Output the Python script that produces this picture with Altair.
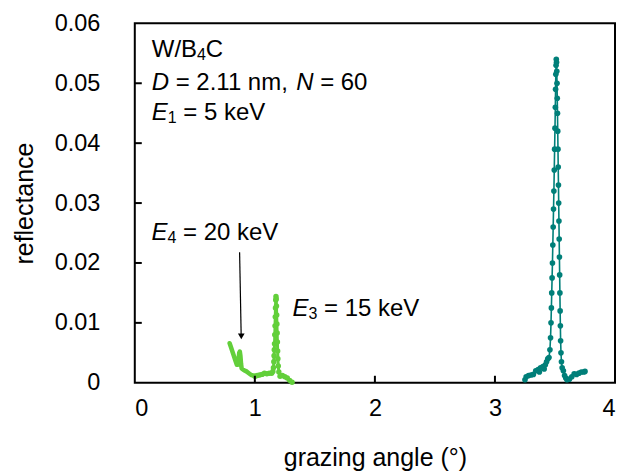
import altair as alt
import pandas as pd

# ---------------- data ----------------
# E1 = 5 keV (teal)
e1_angle = [3.25, 3.26, 3.28, 3.30, 3.32, 3.34, 3.36, 3.37, 3.38, 3.40, 3.41, 3.42, 3.43, 3.44, 3.45,
            3.458, 3.463, 3.467, 3.470, 3.473, 3.476, 3.479, 3.482, 3.485, 3.488, 3.491,
            3.494, 3.497, 3.500, 3.503, 3.505, 3.507, 3.509, 3.511,
            3.513, 3.515, 3.517, 3.519, 3.521, 3.523, 3.525, 3.527, 3.529, 3.531, 3.533, 3.535,
            3.537, 3.539, 3.541, 3.543, 3.545, 3.547, 3.550, 3.554,
            3.56, 3.57, 3.58, 3.59, 3.60, 3.62, 3.64, 3.66, 3.68, 3.70, 3.72, 3.74, 3.75]
e1_refl = [0.0005, 0.0010, 0.0012, 0.0013, 0.0014, 0.0020, 0.0022, 0.0018, 0.0025, 0.0027, 0.0023, 0.0030, 0.0035, 0.0040, 0.0042,
           0.0055, 0.0075, 0.0100, 0.0125, 0.0150, 0.0175, 0.0200, 0.0230, 0.0260, 0.0290, 0.0320,
           0.0355, 0.0390, 0.0425, 0.0460, 0.0490, 0.0515, 0.0530, 0.0540,
           0.0535, 0.0520, 0.0500, 0.0475, 0.0450, 0.0420, 0.0390, 0.0360, 0.0330, 0.0300, 0.0270, 0.0240,
           0.0210, 0.0180, 0.0150, 0.0120, 0.0095, 0.0070, 0.0050, 0.0035,
           0.0025, 0.0020, 0.0012, 0.0008, 0.0005, 0.0006, 0.0010, 0.0015, 0.0014, 0.0016, 0.0018, 0.0018, 0.0019]

# E3 = 15 keV (green, with dots)
e3_angle = [1.00, 1.02, 1.04, 1.06, 1.08, 1.10, 1.12, 1.14, 1.150, 1.155, 1.158, 1.160, 1.162, 1.164,
            1.166, 1.168, 1.170, 1.172, 1.174, 1.176, 1.178, 1.180, 1.182, 1.184, 1.186, 1.188,
            1.190, 1.192, 1.195, 1.200, 1.21, 1.23, 1.25, 1.27, 1.29, 1.31]
e3_refl = [0.0011, 0.0012, 0.0013, 0.0014, 0.0016, 0.0015, 0.0016, 0.0016, 0.0019, 0.0025, 0.0035, 0.0045, 0.0055, 0.0065,
           0.0080, 0.0095, 0.0110, 0.0125, 0.0138, 0.0144, 0.0140, 0.0128, 0.0113, 0.0098, 0.0083, 0.0068,
           0.0053, 0.0040, 0.0028, 0.0018, 0.0011, 0.0012, 0.0010, 0.0008, 0.0004, 0.0001]

# E4 = 20 keV (green, thick line)
e4_angle = [0.79, 0.80, 0.82, 0.84, 0.85, 0.86, 0.865, 0.87, 0.875, 0.88, 0.885, 0.89, 0.91,
            0.93, 0.95, 0.97, 0.99, 1.01]
e4_refl = [0.0066, 0.0060, 0.0048, 0.0036, 0.0030, 0.0030, 0.0040, 0.0050, 0.0052, 0.0045, 0.0032, 0.0024, 0.0021,
           0.0019, 0.0016, 0.0013, 0.0012, 0.0011]

x_tick_values = [1, 2, 3]
y_tick_values = [0.01, 0.02, 0.03, 0.04, 0.05]

# annotation texts (data coordinates)
reg_text = ["W/B", "C", "= 2.11 nm,", "= 60", "= 5 keV", "= 20 keV", "= 15 keV"]
reg_x = [0.1414, 0.592, 0.341, 1.544, 0.404, 0.402, 1.577]
reg_y = [0.0544, 0.0544, 0.0489, 0.0489, 0.0439, 0.02383, 0.01117]

ital_text = ["D", "N", "E", "E", "E"]
ital_x = [0.1414, 1.345, 0.1414, 0.139, 1.314]
ital_y = [0.0489, 0.0489, 0.0439, 0.02383, 0.01117]

sub_text = ["4", "1", "4", "3"]
sub_x = [0.518, 0.274, 0.272, 1.447]
sub_y = [0.0539, 0.0434, 0.0233, 0.0107]

arrow_x = [0.873, 0.886]
arrow_y = [0.0218, 0.0080]
arrow_head_x = [0.887]
arrow_head_y = [0.00775]

# ---------------- styles ----------------
TEAL = "#007f79"
GREEN = "#62cf3a"
FONT = "Liberation Sans"
W, H = 481, 360

df_e1 = pd.DataFrame({"x": e1_angle, "y": e1_refl})
df_e3 = pd.DataFrame({"x": e3_angle, "y": e3_refl})
df_e4 = pd.DataFrame({"x": e4_angle, "y": e4_refl})
df_reg = pd.DataFrame({"x": reg_x, "y": reg_y, "t": reg_text})
df_ital = pd.DataFrame({"x": ital_x, "y": ital_y, "t": ital_text})
df_sub = pd.DataFrame({"x": sub_x, "y": sub_y, "t": sub_text})
df_arrow = pd.DataFrame({"x": arrow_x, "y": arrow_y})
df_head = pd.DataFrame({"x": arrow_head_x, "y": arrow_head_y})
df_xt = pd.DataFrame({"x": x_tick_values})
df_yt = pd.DataFrame({"y": y_tick_values})

xs = alt.Scale(domain=[0, 4], nice=False, zero=False)
ys = alt.Scale(domain=[0, 0.06], nice=False)

X = alt.X("x:Q", scale=xs, title="grazing angle (°)",
          axis=alt.Axis(values=[0, 1, 2, 3, 4], format="d"))
Y = alt.Y("y:Q", scale=ys, title="reflectance",
          axis=alt.Axis(values=[0, 0.01, 0.02, 0.03, 0.04, 0.05, 0.06],
                        labelExpr="datum.value == 0 ? '0' : format(datum.value, '.2f')"))

e4 = alt.Chart(df_e4).mark_line(color=GREEN, strokeWidth=4.5, strokeCap="round",
                                strokeJoin="round").encode(x=X, y=Y)
e3 = alt.Chart(df_e3).mark_line(color=GREEN, strokeWidth=3,
                                point=alt.OverlayMarkDef(filled=True, size=30, color=GREEN)
                                ).encode(x=X, y=Y)
e1 = alt.Chart(df_e1).mark_line(color=TEAL, strokeWidth=1.6,
                                point=alt.OverlayMarkDef(filled=True, size=32, color=TEAL, opacity=1)
                                ).encode(x=X, y=Y)

arrow = alt.Chart(df_arrow).mark_line(color="black", strokeWidth=1.2).encode(x=X, y=Y)
head = alt.Chart(df_head).mark_point(shape="triangle-down", filled=True, size=45,
                                     color="black", opacity=1).encode(x=X, y=Y)

txt_reg = alt.Chart(df_reg).mark_text(font=FONT, fontSize=24, align="left",
                                      baseline="alphabetic", color="black").encode(x=X, y=Y, text="t:N")
txt_ital = alt.Chart(df_ital).mark_text(font=FONT, fontSize=24, fontStyle="italic", align="left",
                                        baseline="alphabetic", color="black").encode(x=X, y=Y, text="t:N")
txt_sub = alt.Chart(df_sub).mark_text(font=FONT, fontSize=16, align="left",
                                      baseline="alphabetic", color="black").encode(x=X, y=Y, text="t:N")

xticks = alt.Chart(df_xt).mark_rule(color="black", strokeWidth=2).encode(
    x=alt.X("x:Q", scale=xs), y=alt.value(H), y2=alt.value(H - 7))
yticks = alt.Chart(df_yt).mark_rule(color="black", strokeWidth=2).encode(
    y=alt.Y("y:Q", scale=ys), x=alt.value(0), x2=alt.value(7))

chart = alt.layer(e4, e3, e1, arrow, head, txt_reg, txt_ital, txt_sub, xticks, yticks).properties(
    width=W, height=H,
    autosize=alt.AutoSizeParams(type="none"),
    padding={"left": 127, "top": 15, "right": 1, "bottom": 90},
).configure_view(
    stroke="black", strokeWidth=2
).configure_axis(
    grid=False, ticks=False, domain=False,
    labelFont=FONT, titleFont=FONT, labelFontSize=23.5, titleFontSize=25,
    labelColor="black", titleColor="black", titleFontWeight="normal",
).configure_axisX(
    labelPadding=14, titlePadding=25
).configure_axisY(
    labelPadding=35, titlePadding=17
)

chart.save("out.html", embed_options={"renderer": "svg", "actions": False})
